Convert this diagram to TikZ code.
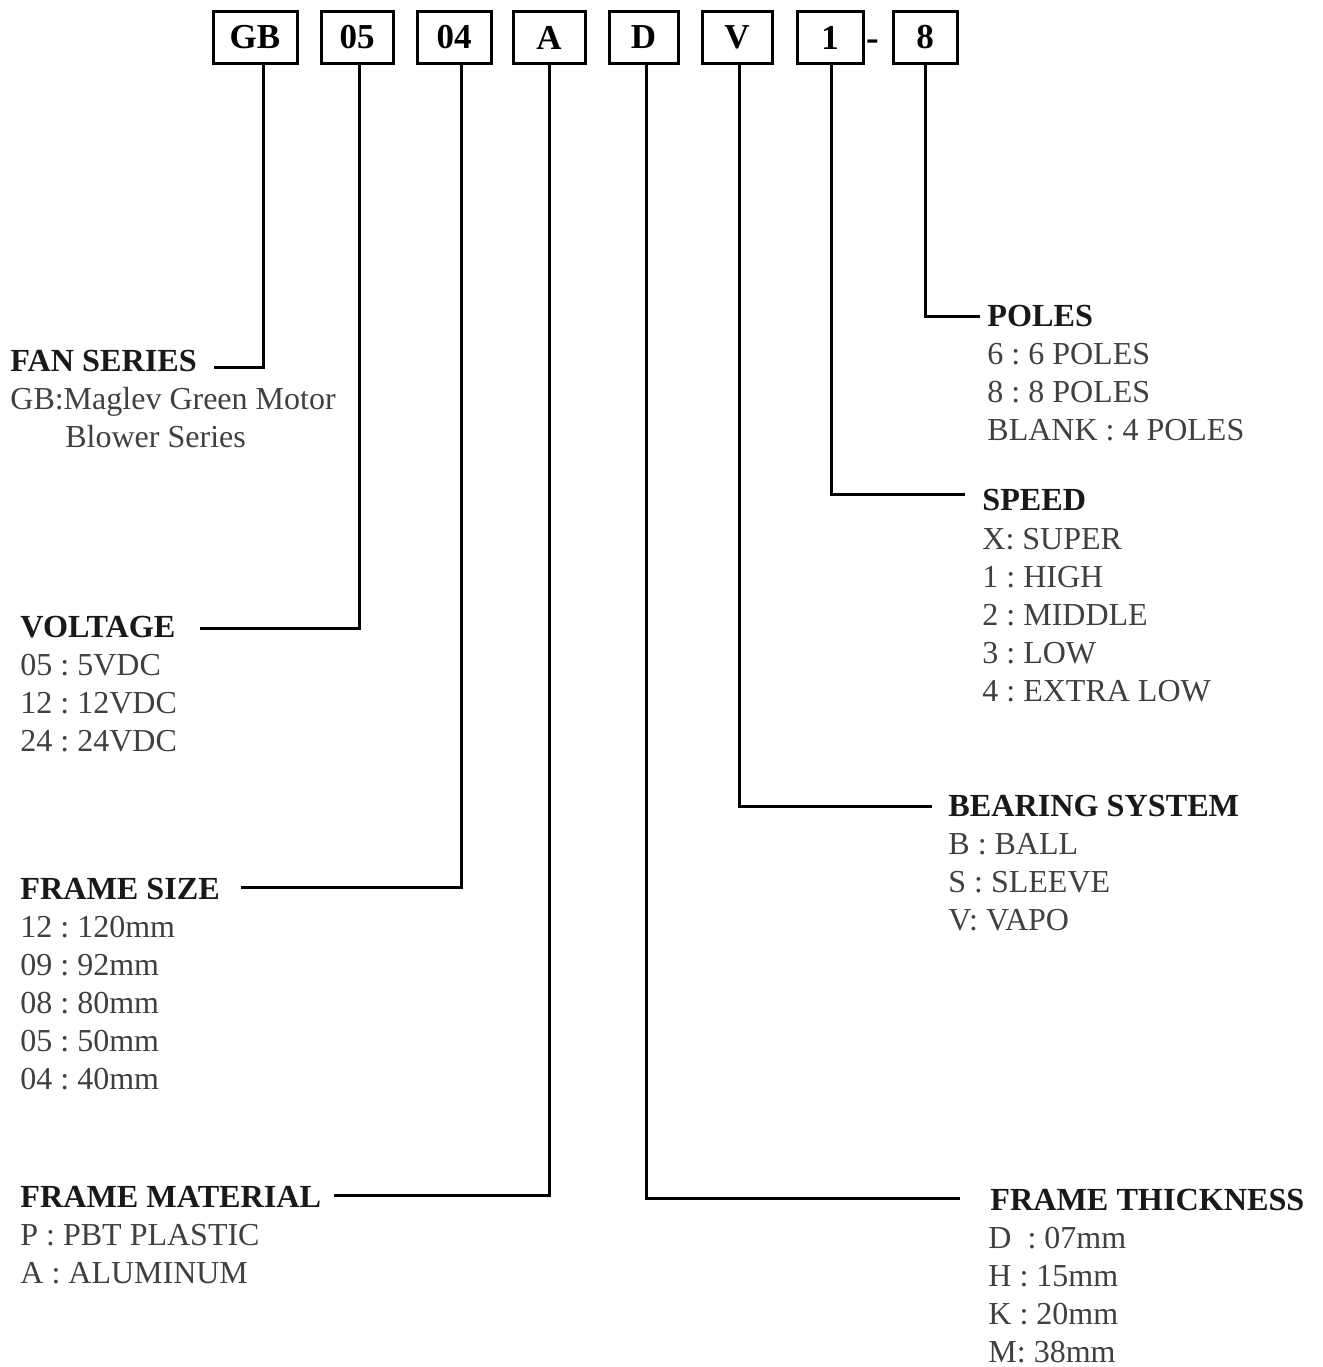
\documentclass[tikz,border=0pt]{standalone}
\usepackage{fontspec}
\setmainfont{Liberation Serif}
\frenchspacing
\begin{document}
\begin{tikzpicture}[x=0.5pt,y=-0.5pt,
  codebox/.style={draw, line width=1.5pt, inner sep=0pt, minimum height=26pt,
    font=\fontsize{17.5}{20}\selectfont\bfseries},
  head/.style={anchor=base west, inner sep=0pt, font=\fontsize{16.1}{19}\selectfont\bfseries\frenchspacing, text=black!90},
  body/.style={anchor=base west, inner sep=0pt, font=\fontsize{16}{19}\selectfont\frenchspacing, text=black!75},
  conn/.style={line width=1.5pt, line cap=rect}]
\useasboundingbox (0,0) rectangle (1323,1367);
% code boxes
\node[codebox, minimum width=42pt] (gb) at (255,37.5) {GB};
\node[codebox, minimum width=36pt] (v05) at (357,37.5) {05};
\node[codebox, minimum width=37pt] (v04) at (454,37.5) {04};
\node[codebox, minimum width=36pt] (va) at (549,37.5) {A};
\node[codebox, minimum width=34.5pt] (vd) at (643.5,37.5) {D};
\node[codebox, minimum width=35pt] (vv) at (737,37.5) {V};
\node[codebox, minimum width=33pt] (v1) at (830,37.5) {1};
\node[font=\fontsize{19}{20}\selectfont\bfseries, inner sep=0pt] (dash) at (873,45) {-};
\node[codebox, minimum width=32pt] (v8) at (925,37.5) {8};
% headings
\node[head] (fan) at (10,371) {FAN SERIES};
\node[body] (fan-1) at (10,409) {GB:Maglev Green Motor};
\node[body] (fan-2) at (65,447) {Blower Series};
\node[head] (volt) at (20,637) {VOLTAGE};
\foreach \t [count=\i] in {05 : 5VDC, 12 : 12VDC, 24 : 24VDC}
  \node[body] (volt-\i) at (20,637+38*\i) {\t};
\node[head] (fsize) at (20,899) {FRAME SIZE};
\foreach \t [count=\i] in {12 : 120mm, 09 : 92mm, 08 : 80mm, 05 : 50mm, 04 : 40mm}
  \node[body] (fsize-\i) at (20,899+38*\i) {\t};
\node[head] (fmat) at (20,1207) {FRAME MATERIAL};
\foreach \t [count=\i] in {P : PBT PLASTIC, A : ALUMINUM}
  \node[body] (fmat-\i) at (20,1207+38*\i) {\t};
\node[head] (poles) at (987,326) {POLES};
\foreach \t [count=\i] in {6 : 6 POLES, 8 : 8 POLES, BLANK : 4 POLES}
  \node[body] (poles-\i) at (987,326+38*\i) {\t};
\node[head] (speed) at (982,510) {SPEED};
\foreach \t [count=\i] in {X: SUPER, 1 : HIGH, 2 : MIDDLE, 3 : LOW, 4 : EXTRA LOW}
  \node[body] (speed-\i) at (982,511+38*\i) {\t};
\node[head] (bear) at (948,816) {BEARING SYSTEM};
\foreach \t [count=\i] in {B : BALL, S : SLEEVE, V: VAPO}
  \node[body] (bear-\i) at (948,816+38*\i) {\t};
\node[head] (thick) at (990,1210) {FRAME THICKNESS};
\foreach \t [count=\i] in {{D\ \ : 07mm}, H : 15mm, K : 20mm, M: 38mm}
  \node[body] (thick-\i) at (988,1210+38*\i) {\t};
% connector x positions and ends
\coordinate (x-gb) at (263,0);
\coordinate (x-05) at (359,0);
\coordinate (x-04) at (461,0);
\coordinate (x-a) at (549,0);
\coordinate (x-d) at (646,0);
\coordinate (x-v) at (739,0);
\coordinate (x-1) at (831,0);
\coordinate (x-8) at (925,0);
\coordinate (e-fan) at (215,367);
\coordinate (e-volt) at (201,628);
\coordinate (e-fsize) at (242,887);
\coordinate (e-fmat) at (335,1195);
\coordinate (e-thick) at (958,1198);
\coordinate (e-bear) at (930,806);
\coordinate (e-speed) at (963,494);
\coordinate (e-poles) at (978,316);
\draw[conn] (x-gb |- gb.south) |- (e-fan);
\draw[conn] (x-05 |- v05.south) |- (e-volt);
\draw[conn] (x-04 |- v04.south) |- (e-fsize);
\draw[conn] (x-a |- va.south) |- (e-fmat);
\draw[conn] (x-d |- vd.south) |- (e-thick);
\draw[conn] (x-v |- vv.south) |- (e-bear);
\draw[conn] (x-1 |- v1.south) |- (e-speed);
\draw[conn] (x-8 |- v8.south) |- (e-poles);
\end{tikzpicture}
\end{document}
